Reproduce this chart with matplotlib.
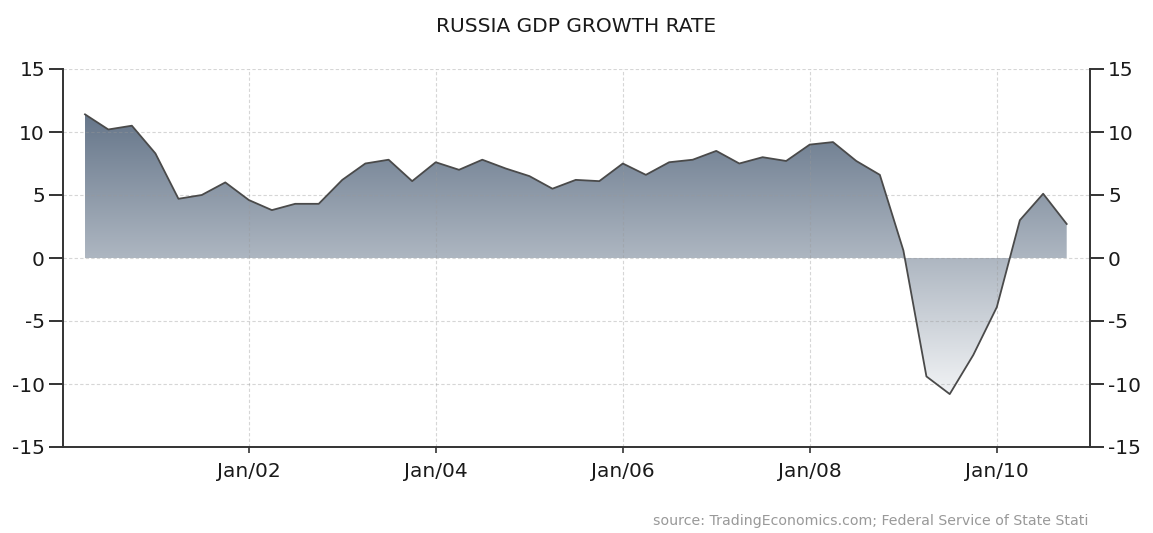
import numpy as np
import pandas as pd
import matplotlib
matplotlib.use('Agg')
import matplotlib.pyplot as plt
import matplotlib.dates as mdates
from matplotlib.colors import LinearSegmentedColormap
from matplotlib.patches import Polygon

# quarterly GDP growth, 2000Q1 .. 2010Q3 (plotted at quarter end)
quarters = pd.date_range('2000-03-31', periods=43, freq='QE')
growth = [11.4, 10.2, 10.5, 8.3,
          4.7, 5.0, 6.0, 4.6,
          3.8, 4.3, 4.3, 6.2,
          7.5, 7.8, 6.1, 7.6,
          7.0, 7.8, 7.1, 6.5,
          5.5, 6.2, 6.1, 7.5,
          6.6, 7.6, 7.8, 8.5,
          7.5, 8.0, 7.7, 9.0,
          9.2, 7.7, 6.6, 0.6,
          -9.4, -10.8, -7.7, -3.9,
          3.0, 5.1, 2.7]
yticks = [-15, -10, -5, 0, 5, 10, 15]
xtick_dates = ['2002-01-01', '2004-01-01', '2006-01-01', '2008-01-01', '2010-01-01']
xtick_labels = ['Jan/02', 'Jan/04', 'Jan/06', 'Jan/08', 'Jan/10']

fig = plt.figure(figsize=(11.53, 5.33), dpi=100)
ax = fig.add_axes([63 / 1153, 1 - 447 / 533, (1090 - 63) / 1153, (447 - 69) / 533])

x = mdates.date2num(quarters.to_pydatetime())
y = np.array(growth)

# gradient fill clipped to the area between the curve and zero
verts = [(x[0], 0)] + list(zip(x, y)) + [(x[-1], 0)]
clip = Polygon(verts, closed=True, facecolor='none', edgecolor='none')
ax.add_patch(clip)
cmap = LinearSegmentedColormap.from_list('slate', ['#f1f3f5', '#66768a'])
grad = np.linspace(0, 1, 256).reshape(-1, 1)
im = ax.imshow(grad, cmap=cmap, origin='lower', aspect='auto',
               extent=[x[0], x[-1], y.min(), y.max()], zorder=1)
im.set_clip_path(clip)

ax.plot(x, y, color='#4a4a4a', lw=1.3, zorder=3)

x0 = mdates.date2num(pd.Timestamp('2002-01-01')) - 727
x1 = mdates.date2num(pd.Timestamp('2010-01-01')) + 363
ax.set_xlim(x0, x1)
ax.set_ylim(-15, 15)

ax.set_yticks(yticks)
ax.set_yticklabels([str(v) for v in yticks])
ax.set_xticks(mdates.date2num([pd.Timestamp(d) for d in xtick_dates]))
ax.set_xticklabels(xtick_labels)

ax.grid(True, color='#999999', alpha=0.4, lw=0.8, linestyle=(0, (3, 2)), zorder=2)
ax.set_axisbelow(False)

for s in ['left', 'right', 'bottom']:
    ax.spines[s].set_color('#333333')
    ax.spines[s].set_linewidth(1.4)
    ax.spines[s].set_zorder(4)
ax.spines['top'].set_visible(False)

ax.tick_params(axis='y', which='both', left=True, right=True, labelleft=True, labelright=True,
               length=10, width=1.4, color='#333333', labelsize=14.5, labelcolor='#1a1a1a', pad=3)
ax.tick_params(axis='x', length=4, width=1.2, color='#333333', labelsize=14.5,
               labelcolor='#1a1a1a', pad=7)

fig.text(0.5, 1 - 27 / 533, 'RUSSIA GDP GROWTH RATE', ha='center', va='center',
         fontsize=14.5, fontweight='medium', color='#1a1a1a')
fig.text(1088 / 1153, 1 - 521 / 533, 'source: TradingEconomics.com; Federal Service of State Stati',
         ha='right', va='center', fontsize=10.2, color='#999999')

fig.savefig('out.png', dpi=100)
